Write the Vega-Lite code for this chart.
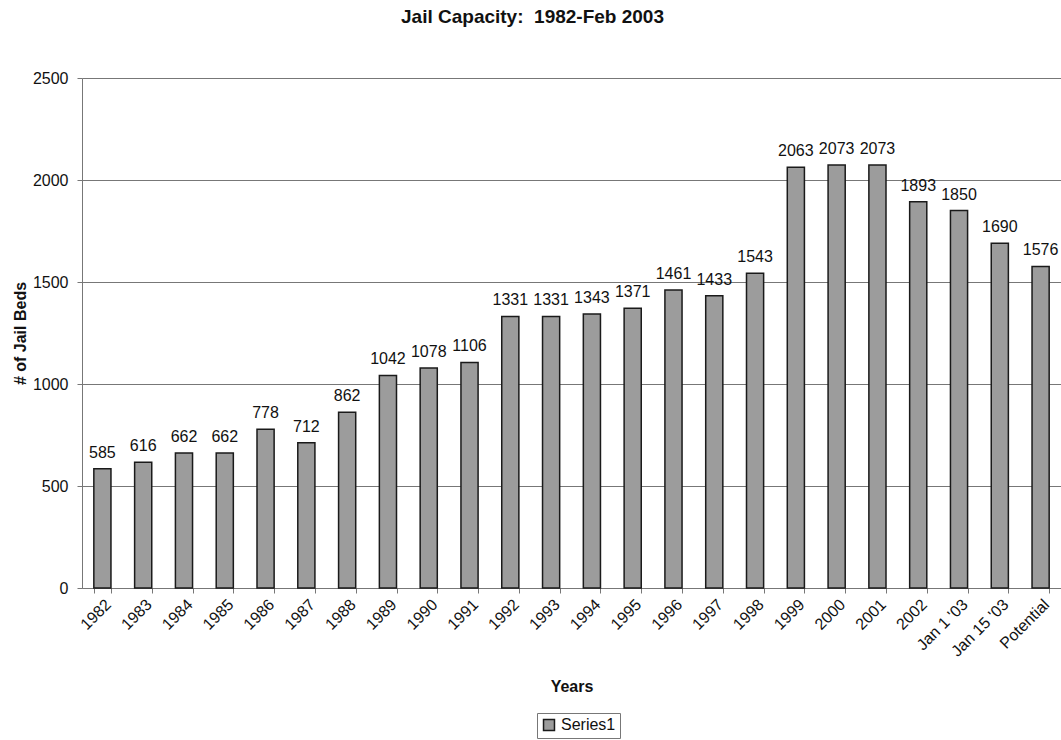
{
  "$schema": "https://vega.github.io/schema/vega-lite/v6.json",
  "width": 979,
  "height": 510,
  "autosize": {"type": "none"},
  "padding": {"left": 82, "top": 78, "right": 0, "bottom": 152},
  "background": "white",
  "config": {
    "font": "Liberation Sans",
    "view": {"stroke": null},
    "axis": {"labelFont": "Liberation Sans", "titleFont": "Liberation Sans"}
  },
  "title": {
    "text": "Jail Capacity:\u00a0 1982-Feb 2003",
    "font": "Liberation Sans",
    "fontSize": 19,
    "fontWeight": "bold",
    "color": "#111",
    "anchor": "middle",
    "dx": -39,
    "offset": 43
  },
  "data": {
    "values": [
      {"year": "1982", "beds": 585, "series": "Series1"},
      {"year": "1983", "beds": 616, "series": "Series1"},
      {"year": "1984", "beds": 662, "series": "Series1"},
      {"year": "1985", "beds": 662, "series": "Series1"},
      {"year": "1986", "beds": 778, "series": "Series1"},
      {"year": "1987", "beds": 712, "series": "Series1"},
      {"year": "1988", "beds": 862, "series": "Series1"},
      {"year": "1989", "beds": 1042, "series": "Series1"},
      {"year": "1990", "beds": 1078, "series": "Series1"},
      {"year": "1991", "beds": 1106, "series": "Series1"},
      {"year": "1992", "beds": 1331, "series": "Series1"},
      {"year": "1993", "beds": 1331, "series": "Series1"},
      {"year": "1994", "beds": 1343, "series": "Series1"},
      {"year": "1995", "beds": 1371, "series": "Series1"},
      {"year": "1996", "beds": 1461, "series": "Series1"},
      {"year": "1997", "beds": 1433, "series": "Series1"},
      {"year": "1998", "beds": 1543, "series": "Series1"},
      {"year": "1999", "beds": 2063, "series": "Series1"},
      {"year": "2000", "beds": 2073, "series": "Series1"},
      {"year": "2001", "beds": 2073, "series": "Series1"},
      {"year": "2002", "beds": 1893, "series": "Series1"},
      {"year": "Jan 1 '03", "beds": 1850, "series": "Series1"},
      {"year": "Jan 15 '03", "beds": 1690, "series": "Series1"},
      {"year": "Potential", "beds": 1576, "series": "Series1"}
    ]
  },
  "encoding": {
    "x": {
      "field": "year",
      "type": "nominal",
      "sort": null,
      "scale": {"paddingInner": 0.58, "paddingOuter": 0.29},
      "axis": {
        "title": "Years",
        "titleFontSize": 16,
        "titleFontWeight": "bold",
        "titleColor": "#111",
        "titlePadding": 19,
        "labelAngle": -45,
        "labelFontSize": 16,
        "labelColor": "#111",
        "labelPadding": 3,
        "tickBand": "extent",
        "tickSize": 5,
        "tickColor": "#777",
        "domainColor": "#777",
        "grid": false
      }
    },
    "y": {
      "field": "beds",
      "type": "quantitative",
      "scale": {"domain": [0, 2500], "nice": false},
      "axis": {
        "title": "# of Jail Beds",
        "titleFontSize": 16,
        "titleFontWeight": "bold",
        "titleColor": "#111",
        "titlePadding": 4,
        "values": [0, 500, 1000, 1500, 2000, 2500],
        "format": "d",
        "labelFontSize": 16,
        "labelColor": "#111",
        "labelPadding": 9,
        "tickSize": 5,
        "tickColor": "#777",
        "domainColor": "#777",
        "gridColor": "#777",
        "gridWidth": 1.2,
        "gridOpacity": 1
      }
    }
  },
  "layer": [
    {
      "mark": {"type": "bar", "stroke": "#1a1a1a", "strokeWidth": 1.5},
      "encoding": {
        "color": {
          "field": "series",
          "type": "nominal",
          "scale": {"range": ["#9c9c9c"]},
          "legend": {
            "title": null,
            "orient": "none",
            "legendX": 455,
            "legendY": 635,
            "direction": "horizontal",
            "symbolType": "square",
            "symbolSize": 120,
            "symbolStrokeColor": "#1a1a1a",
            "symbolStrokeWidth": 1.5,
            "labelFontSize": 16,
            "labelColor": "#111",
            "labelFont": "Liberation Sans",
            "strokeColor": "#777",
            "padding": 4
          }
        }
      }
    },
    {
      "mark": {
        "type": "text",
        "baseline": "bottom",
        "dy": -8,
        "fontSize": 16,
        "color": "#111",
        "font": "Liberation Sans"
      },
      "encoding": {"text": {"field": "beds", "type": "quantitative"}}
    }
  ]
}
